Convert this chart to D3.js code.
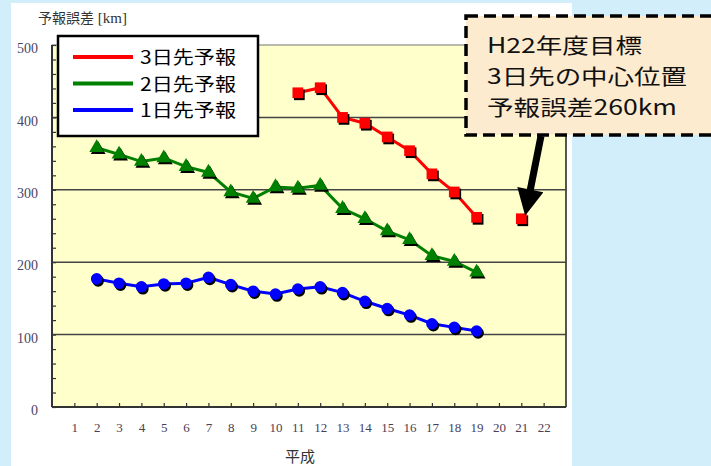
<!DOCTYPE html>
<html>
<head>
<meta charset="utf-8">
<script src="https://cdn.jsdelivr.net/npm/d3@7"></script>
<style>
  body { margin: 0; background: #d3eefb; }
  .canvas { width: 711px; height: 466px; }
</style>
</head>
<body>
<div class="canvas"></div>
<script>
// 平成の年度
const years3 = [11, 12, 13, 14, 15, 16, 17, 18, 19]
const err3 = [434, 441, 400, 392, 373, 354, 322, 297, 262]
const years2 = [2, 3, 4, 5, 6, 7, 8, 9, 10, 11, 12, 13, 14, 15, 16, 17, 18, 19]
const err2 = [358, 349, 339, 344, 332, 324, 297, 288, 304, 302, 306, 274, 260, 243, 231, 209, 201, 186]
const years1 = [2, 3, 4, 5, 6, 7, 8, 9, 10, 11, 12, 13, 14, 15, 16, 17, 18, 19]
const err1 = [177, 171, 166, 170, 171, 179, 169, 160, 156, 163, 166, 158, 146, 136, 127, 115, 110, 105]
const targetYear = 21
const targetErr = 260
const xTicks = d3.range(1, 23)
const yLabels = [0, 100, 200, 300, 400, 500]
const legendNames = ['3日先予報', '2日先予報', '1日先予報']
const noteLines = ['H22年度目標', '3日先の中心位置', '予報誤差260km']

const svg = d3.select('.canvas').append('svg')
  .attr('width', 711)
  .attr('height', 466)

// white panel
svg.append('rect')
  .attr('x', 11).attr('y', 3)
  .attr('width', 561).attr('height', 463)
  .attr('fill', '#fff')

const margin = { top: 45, left: 52 }
const graphWidth = 514
const graphHeight = 362

const graph = svg.append('g')
  .attr('transform', `translate(${margin.left}, ${margin.top})`)

const x = d3.scaleLinear().domain([0, 23]).range([0, graphWidth])
const y = d3.scaleLinear().domain([0, 500]).range([graphHeight, 0])

graph.append('rect')
  .attr('width', graphWidth)
  .attr('height', graphHeight)
  .attr('fill', '#ffffcc')
  .attr('stroke', '#777')
  .attr('stroke-width', 1)

// right border is a bit heavier
graph.append('line')
  .attr('x1', graphWidth).attr('x2', graphWidth)
  .attr('y1', 0).attr('y2', graphHeight)
  .attr('stroke', '#555').attr('stroke-width', 2)

// gridlines
graph.selectAll('.grid')
  .data([100, 200, 300, 400])
  .enter().append('line')
  .attr('x1', 0).attr('x2', graphWidth)
  .attr('y1', d => y(d)).attr('y2', d => y(d))
  .attr('stroke', '#444')
  .attr('stroke-width', 1.5)

// minor ticks on y (inside)
const yMinor = graph.append('g')
  .call(d3.axisLeft(y).tickValues(d3.range(0, 501, 20)).tickSize(-4).tickFormat(''))
yMinor.select('.domain').remove()
yMinor.selectAll('line').attr('stroke', '#333').attr('stroke-width', 1.2)

// y labels
const yAxisGroup = graph.append('g')
  .call(d3.axisLeft(y).tickValues(yLabels).tickSize(0).tickPadding(14))
yAxisGroup.select('.domain').remove()
yAxisGroup.selectAll('text')
  .attr('font-family', '"Liberation Serif", serif')
  .attr('font-size', 14)
  .attr('fill', '#4a4666')
  .attr('dy', '0.55em')

// x axis
const xAxisGroup = graph.append('g')
  .attr('transform', `translate(0, ${graphHeight})`)
  .call(d3.axisBottom(x).tickValues(xTicks).tickSize(-4).tickPadding(16))
xAxisGroup.select('.domain').remove()
xAxisGroup.selectAll('line').attr('stroke', '#333').attr('stroke-width', 1.2)
xAxisGroup.selectAll('text')
  .attr('font-family', '"Liberation Serif", serif')
  .attr('font-size', 13)
  .attr('fill', '#4a4055')

// axis lines
graph.append('line')
  .attr('x1', 0).attr('x2', 0).attr('y1', 0).attr('y2', graphHeight)
  .attr('stroke', '#333').attr('stroke-width', 2)
graph.append('line')
  .attr('x1', 0).attr('x2', graphWidth).attr('y1', graphHeight).attr('y2', graphHeight)
  .attr('stroke', '#333').attr('stroke-width', 2)

// titles
svg.append('text')
  .attr('x', 38).attr('y', 23)
  .attr('font-size', 14)
  .attr('fill', '#333')
  .call(t => {
    t.append('tspan').attr('font-family', '"Noto Sans CJK JP", sans-serif').text('予報誤差')
    t.append('tspan').attr('font-family', '"Liberation Serif", serif').attr('font-size', 15).text(' [km]')
  })

svg.append('text')
  .attr('x', margin.left + x(11.1)).attr('y', 462)
  .attr('text-anchor', 'middle')
  .attr('font-family', '"Noto Sans CJK JP", sans-serif')
  .attr('font-size', 15)
  .attr('fill', '#333')
  .text('平成')

const line = d3.line().x(d => x(d[0])).y(d => y(d[1]))

const series = [
  { years: years3, vals: err3, color: '#ff0000', shape: d3.symbolSquare, size: 115 },
  { years: years2, vals: err2, color: '#008000', shape: d3.symbolTriangle, size: 95 },
  { years: years1, vals: err1, color: '#0000ff', shape: d3.symbolCircle, size: 105 }
]

// draw lower series first so red sits on top
series.slice().reverse().forEach(s => {
  const pts = d3.zip(s.years, s.vals)
  graph.append('path')
    .attr('d', line(pts))
    .attr('fill', 'none')
    .attr('stroke', s.color)
    .attr('stroke-width', 3)
  const sym = d3.symbol().type(s.shape).size(s.size)
  // shadow
  graph.selectAll(null)
    .data(pts)
    .enter().append('path')
    .attr('d', sym)
    .attr('transform', d => `translate(${x(d[0]) + 1.5}, ${y(d[1]) + 2})`)
    .attr('fill', '#000')
  graph.selectAll(null)
    .data(pts)
    .enter().append('path')
    .attr('d', sym)
    .attr('transform', d => `translate(${x(d[0])}, ${y(d[1])})`)
    .attr('fill', s.color)
})

// target point
const tsym = d3.symbol().type(d3.symbolSquare).size(115)
graph.append('path')
  .attr('d', tsym)
  .attr('transform', `translate(${x(targetYear) + 1.5}, ${y(targetErr) + 2})`)
  .attr('fill', '#000')
graph.append('path')
  .attr('d', tsym)
  .attr('transform', `translate(${x(targetYear)}, ${y(targetErr)})`)
  .attr('fill', '#ff0000')

// legend
const legend = svg.append('g')
legend.append('rect')
  .attr('x', 58).attr('y', 36)
  .attr('width', 200).attr('height', 100)
  .attr('fill', '#fff')
  .attr('stroke', '#000')
  .attr('stroke-width', 2.5)
legend.selectAll('line')
  .data(series)
  .enter().append('line')
  .attr('x1', 73).attr('x2', 133)
  .attr('y1', (d, i) => 57 + i * 26.5)
  .attr('y2', (d, i) => 57 + i * 26.5)
  .attr('stroke', d => d.color)
  .attr('stroke-width', 4)
legend.selectAll('text')
  .data(legendNames)
  .enter().append('text')
  .attr('x', 140)
  .attr('y', (d, i) => 64 + i * 26.5)
  .attr('font-family', '"Noto Sans CJK JP", sans-serif')
  .attr('font-size', 18)
  .attr('fill', '#000')
  .attr('textLength', 96)
  .attr('lengthAdjust', 'spacingAndGlyphs')
  .text(d => d)

// note box
svg.append('rect')
  .attr('x', 466).attr('y', 16)
  .attr('width', 270).attr('height', 119)
  .attr('fill', '#fdebd0')
  .attr('stroke', '#000')
  .attr('stroke-width', 3.5)
  .attr('stroke-dasharray', '12,6')

const noteLen = [155, 200, 190]
svg.selectAll('.note')
  .data(noteLines)
  .enter().append('text')
  .attr('x', 487)
  .attr('y', (d, i) => 53 + i * 31)
  .attr('font-family', '"Noto Sans CJK JP", sans-serif')
  .attr('font-size', 21)
  .attr('fill', '#111')
  .attr('textLength', (d, i) => noteLen[i])
  .attr('lengthAdjust', 'spacingAndGlyphs')
  .text(d => d)

// arrow towards the target point
const tipX = margin.left + x(targetYear) + 5
const tipY = margin.top + y(targetErr) - 8
svg.append('defs').append('marker')
  .attr('id', 'head')
  .attr('viewBox', '0 0 10 10')
  .attr('refX', 2).attr('refY', 5)
  .attr('markerWidth', 4).attr('markerHeight', 3.8)
  .attr('orient', 'auto')
  .append('path')
  .attr('d', 'M0,0L10,5L0,10z')
  .attr('fill', '#000')
svg.append('line')
  .attr('x1', 541).attr('y1', 136)
  .attr('x2', tipX + 3).attr('y2', tipY - 16)
  .attr('stroke', '#000')
  .attr('stroke-width', 7)
  .attr('marker-end', 'url(#head)')
</script>
</body>
</html>
